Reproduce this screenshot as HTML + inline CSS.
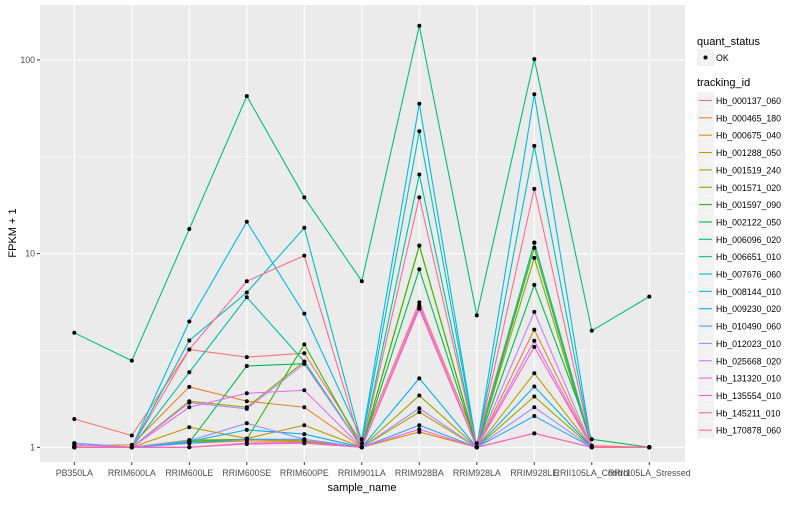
<!DOCTYPE html>
<html><head><meta charset="utf-8"><style>
body{margin:0;background:#fff;font-family:"Liberation Sans",sans-serif}
svg text{font-family:"Liberation Sans",sans-serif}
</style></head><body>
<svg width="800" height="500">
<rect x="0" y="0" width="800" height="500" fill="#fff"/>
<rect x="40" y="5" width="645" height="457" fill="#ebebeb"/>
<g id="grid"></g><g id="lines"></g><g id="pts"></g><g id="axes"></g><g id="legend"></g>
</svg>
<script>
const categories=["PB350LA","RRIM600LA","RRIM600LE","RRIM600SE","RRIM600PE","RRIM901LA","RRIM928BA","RRIM928LA","RRIM928LE","RRII105LA_Control","RRII105LA_Stressed"];
const seriesNames=["Hb_000137_060","Hb_000465_180","Hb_000675_040","Hb_001288_050","Hb_001519_240","Hb_001571_020","Hb_001597_090","Hb_002122_050","Hb_006096_020","Hb_006651_010","Hb_007676_060","Hb_008144_010","Hb_009230_020","Hb_010490_060","Hb_012023_010","Hb_025668_020","Hb_131320_010","Hb_135554_010","Hb_145211_010","Hb_170878_060"];
const colors=["#F8766D","#EA8331","#D89000","#C09B00","#A3A500","#7CAE00","#39B600","#00BB4E","#00BF7D","#00C1A3","#00BFC4","#00BAE0","#00B0F6","#35A2FF","#9590FF","#C77CFF","#E76BF3","#FA62DB","#FF62BC","#FF6C91"];
const s0=[1.4,1.15,3.2,2.92,3.06,1.05,5.6,1.05,11.4,1.02,1.0];
const s1=[1.02,1.03,2.05,1.73,1.61,1.0,5.2,1.0,4.05,1.0,1.0];
const s2=[1.0,1.0,1.05,1.08,1.07,1.0,1.2,1.0,1.18,1.0,1.0];
const s3=[1.0,1.0,1.27,1.11,1.3,1.0,1.52,1.0,2.41,1.0,1.0];
const s4=[1.0,1.0,1.09,1.1,1.08,1.0,1.85,1.0,1.83,1.0,1.0];
const s5=[1.0,1.0,1.73,1.61,2.77,1.0,11,1.0,9.5,1.0,1.0];
const s6=[1.0,1.0,1.07,1.1,3.4,1.0,11,1.0,10.7,1.0,1.0];
const s7=[1.0,1.0,1.06,2.63,2.7,1.0,8.3,1.0,6.9,1.1,1.0];
const s8=[3.9,2.8,13.4,65,19.5,7.2,150,4.8,101,4.0,6.0];
const s9=[1.05,1.0,2.44,5.95,2.77,1.0,25.6,1.0,11.4,1.0,1.0];
const s10=[1.05,1.0,3.56,6.3,13.6,1.05,42.8,1.0,36,1.0,1.0];
const s11=[1.0,1.0,4.46,14.6,4.9,1.1,59.4,1.0,66.5,1.0,1.0];
const s12=[1.0,1.0,1.07,1.23,1.17,1.0,2.27,1.0,2.06,1.0,1.0];
const s13=[1.0,1.0,1.05,1.1,1.1,1.0,1.3,1.0,1.45,1.0,1.0];
const s14=[1.05,1.0,1.08,1.33,1.1,1.0,1.59,1.0,1.61,1.0,1.0];
const s15=[1.03,1.0,1.7,1.58,2.7,1.0,5.4,1.0,5.0,1.0,1.0];
const s16=[1.0,1.0,1.61,1.9,1.97,1.0,5.3,1.0,3.55,1.0,1.0];
const s17=[1.0,1.0,1.0,1.05,1.06,1.0,1.24,1.0,1.18,1.0,1.0];
const s18=[1.0,1.0,1.0,1.04,1.05,1.0,5.2,1.0,3.3,1.0,1.0];
const s19=[1.0,1.0,3.2,7.2,9.76,1.0,19.5,1.0,21.6,1.0,1.0];
const series=[s0,s1,s2,s3,s4,s5,s6,s7,s8,s9,s10,s11,s12,s13,s14,s15,s16,s17,s18,s19];
const yTicks=[1,10,100];
const yTickLabels=["1","10","100"];
const NS="http://www.w3.org/2000/svg";
function xs(i){return 74.3+i*57.5;}
function ys(v){return 447.3-Math.log10(v)*193.7;}
function mk(tag,attrs,parent){const e=document.createElementNS(NS,tag);for(const k in attrs)e.setAttribute(k,attrs[k]);document.getElementById(parent).appendChild(e);return e;}
// grid
[Math.sqrt(10),Math.sqrt(1000)].forEach(v=>{const l=mk("line",{x1:40,x2:685,y1:ys(v),y2:ys(v),stroke:"#fff","stroke-width":0.5},"grid");

});
yTicks.forEach((v,i)=>{const l=mk("line",{x1:40,x2:685,y1:ys(v),y2:ys(v),stroke:"#fff","stroke-width":1.1},"grid");


const t=mk("line",{x1:37,x2:40,y1:ys(v),y2:ys(v),stroke:"#333","stroke-width":1},"axes");


const tx=mk("text",{x:35,y:ys(v)+3,"text-anchor":"end","font-size":"8.8",fill:"#4d4d4d"},"axes");


tx.textContent=yTickLabels[i];});
categories.forEach((c,i)=>{const l=mk("line",{x1:xs(i),x2:xs(i),y1:5,y2:462,stroke:"#fff","stroke-width":1.1},"grid");


const t=mk("line",{x1:xs(i),x2:xs(i),y1:462,y2:465,stroke:"#333","stroke-width":1},"axes");


const tx=mk("text",{x:xs(i),y:476,"text-anchor":"middle","font-size":"8.8",fill:"#4d4d4d"},"axes");


tx.textContent=c;});
// lines
series.forEach((s,k)=>{const p=mk("polyline",{points:s.map((v,i)=>xs(i)+","+ys(v)).join(" "),fill:"none",stroke:colors[k],"stroke-width":1.1},"lines");


s.forEach((v,i)=>{const c=mk("circle",{cx:xs(i),cy:ys(v),r:2,fill:"#000"},"pts");

});});
// axis titles
let t=mk("text",{x:362,y:491,"text-anchor":"middle","font-size":"11",fill:"#000"},"axes");


t.textContent="sample_name";
t=mk("text",{x:0,y:0,transform:"translate(16,233) rotate(-90)","text-anchor":"middle","font-size":"11",fill:"#000"},"axes");


t.textContent="FPKM + 1";
// legend
t=mk("text",{x:697,y:45,"font-size":"11",fill:"#000"},"legend");


t.textContent="quant_status";
let r=mk("rect",{x:697,y:49,width:17,height:17,fill:"#f2f2f2"},"legend");


r=mk("circle",{cx:705.5,cy:57.5,r:2,fill:"#000"},"legend");


t=mk("text",{x:716,y:61,"font-size":"8.8",fill:"#000"},"legend");


t.textContent="OK";
t=mk("text",{x:697,y:86,"font-size":"11",fill:"#000"},"legend");


t.textContent="tracking_id";
seriesNames.forEach((n,k)=>{const y=92+k*17.35;
const b=mk("rect",{x:697,y:y,width:17,height:17,fill:"#f2f2f2"},"legend");


const l=mk("line",{x1:699,x2:712,y1:y+8.5,y2:y+8.5,stroke:colors[k],"stroke-width":1.1},"legend");


const tx=mk("text",{x:716,y:y+12,"font-size":"8.8",fill:"#000"},"legend");


tx.textContent=n;});
</script>
</body></html>
